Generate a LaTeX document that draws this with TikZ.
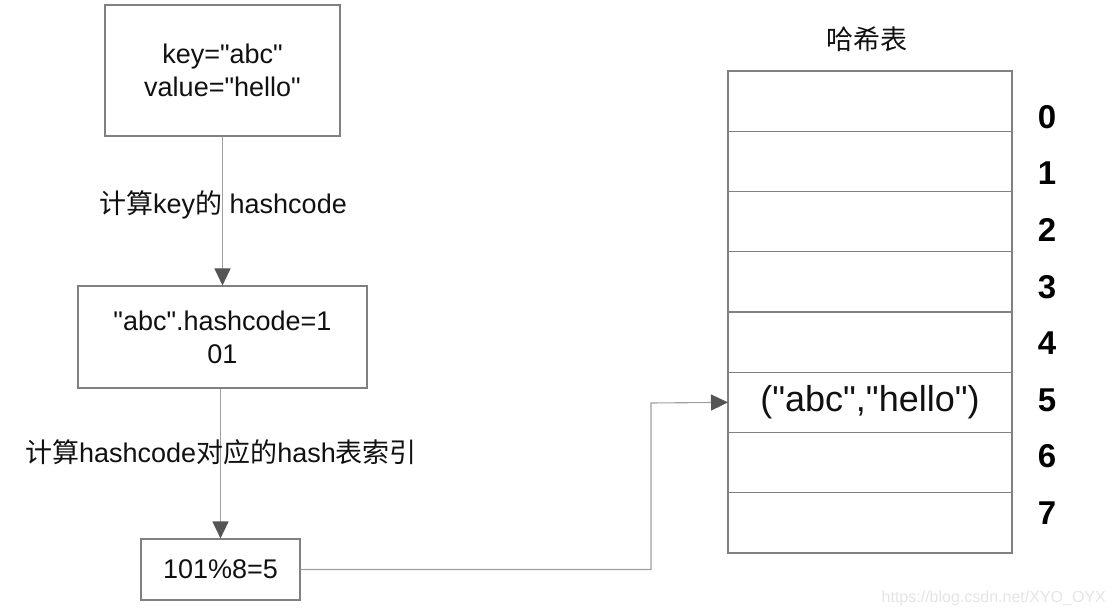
\documentclass[tikz,border=0pt]{standalone}
\usepackage{fontspec}
\setmainfont{Liberation Sans}[Ligatures=TeXOff]
\newfontfamily\cjk{Noto Sans CJK SC}
\usetikzlibrary{arrows.meta}
\definecolor{boxline}{HTML}{808080}
\definecolor{connline}{HTML}{A0A0A0}
\definecolor{tipcol}{HTML}{555555}
\definecolor{txt}{HTML}{111111}
\begin{document}
\begin{tikzpicture}[x=1pt,y=-1pt,
  box/.style={draw=boxline,line width=1.1pt,inner sep=0pt,align=center,text=txt,font=\fontsize{27}{33}\selectfont},
  lbl/.style={font=\fontsize{27}{33}\selectfont,inner sep=0pt,text=txt},
  conn/.style={draw=connline,line width=1.1pt},
  tipped/.style={-{Triangle[length=17pt,width=16pt,color=tipcol]}},
  cell/.style={draw=boxline,line width=1.1pt,minimum width=284pt,minimum height=60.25pt,inner sep=0pt,outer sep=0pt},
  idx/.style={font=\fontsize{33}{33}\selectfont\bfseries,inner sep=0pt,text=black}
]
\useasboundingbox (0,0) rectangle (1109,609);
\fill[white] (0,0) rectangle (1109,609);
% left flow
\node[box,minimum width=235pt,minimum height=131pt] (b1) at (222.5,70.5) {key="abc"\\value="hello"};
\node[box,minimum width=289pt,minimum height=102pt] (b2) at (222.5,337) {"abc".hashcode=1\\01};
\node[box,minimum width=159pt,minimum height=61pt] (b3) at (220.5,569.5) {101\%8=5};
\draw[conn,tipped] (b1.south -| b2.north) -- (b2.north);
\draw[conn,tipped] (b2.south -| b3.north) -- (b3.north);
\node[lbl] (l1) at (223,205) {{\cjk 计算}key{\cjk 的} hashcode};
\node[lbl] (l2) at (221,452) {{\cjk 计算}hashcode{\cjk 对应的}hash{\cjk 表索引}};
% hash table
\node[lbl] (title) at (867,39) {\cjk 哈希表};
\foreach \i in {0,...,7}{
  \node[cell] (r\i) at (870,{71+60.25*(\i+0.5)}) {};
  \node[idx] (n\i) at (1047,{117+56.6*\i}) {\i};
}
\node[font=\fontsize{36}{36}\selectfont,text=txt,inner sep=0pt] (pair) at (r5) {("abc","hello")};
% connector to table
\coordinate (bend) at (651,403);
\draw[conn,tipped] (b3.east) -| (bend) -- (r5.west);
% watermark
\node[anchor=east,font=\fontsize{16}{16}\selectfont,text=black!10,inner sep=0pt] (wm) at (1106,598) {https://blog.csdn.net/XYO\_OYX};
\end{tikzpicture}
\end{document}
